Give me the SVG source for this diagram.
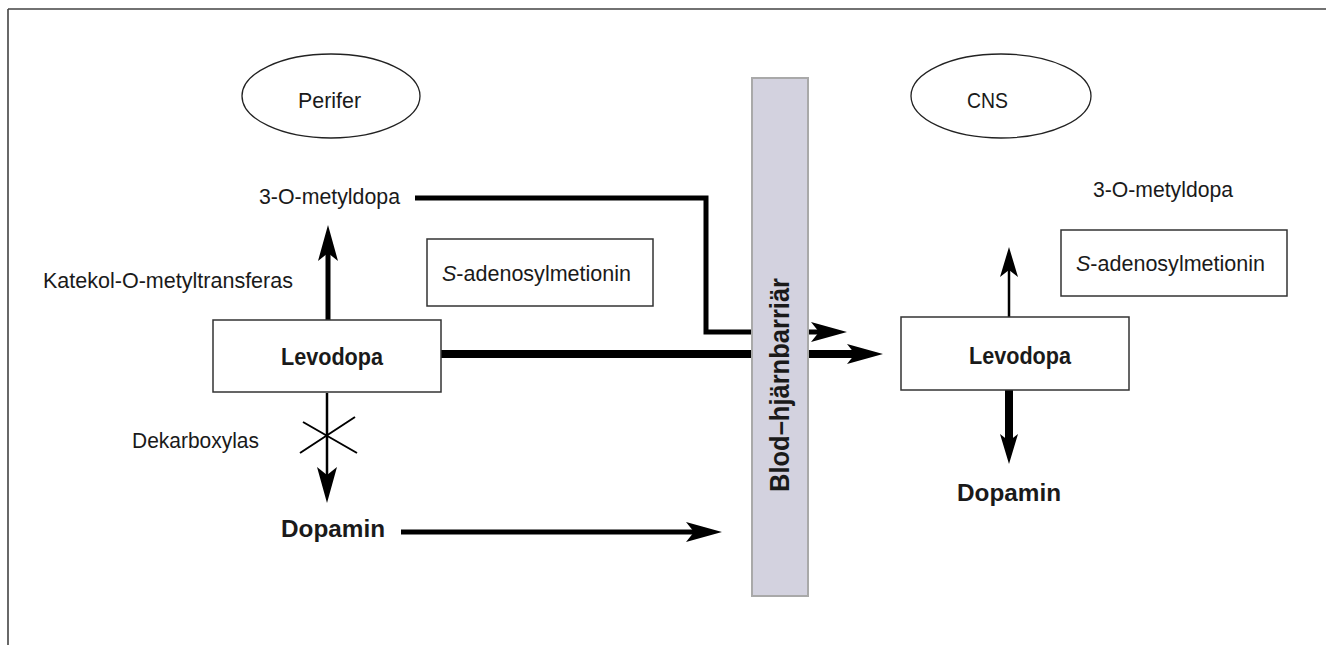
<svg xmlns="http://www.w3.org/2000/svg" width="1326" height="645" viewBox="0 0 1326 645">
<style>
text{font-family:"Liberation Sans",Arial,sans-serif;fill:#1a1a1a}
.r{font-size:22px}
.b{font-size:23px;font-weight:bold}
.box{fill:#fff;stroke:#333;stroke-width:1.5}
.ell{fill:#fff;stroke:#222;stroke-width:1.3}
.ln{fill:none;stroke:#000;stroke-linejoin:miter}
</style>
<defs>
<marker id="ah" markerUnits="userSpaceOnUse" viewBox="0 0 36 20" refX="8" refY="10" markerWidth="36" markerHeight="20" orient="auto">
<path d="M36,10 L0,0 L8,10 L0,20 Z" fill="#000"/>
</marker>
<marker id="ahs" markerUnits="userSpaceOnUse" viewBox="0 0 30 18" refX="7" refY="9" markerWidth="30" markerHeight="18" orient="auto">
<path d="M30,9 L0,0 L7,9 L0,18 Z" fill="#000"/>
</marker>
</defs>
<path d="M8,9 H1326 M8,9 V645" fill="none" stroke="#444" stroke-width="1.6"/>
<g id="connectors">
<path class="ln" d="M415,198 H706 V332 H819" stroke-width="5" marker-end="url(#ah)"/>
<path class="ln" d="M441,354 H855" stroke-width="8" marker-end="url(#ah)"/>
<path class="ln" d="M401,532 H694" stroke-width="5" marker-end="url(#ah)"/>
<path class="ln" d="M328,320 V253" stroke-width="5" marker-end="url(#ah)"/>
<path class="ln" d="M327,393 V475" stroke-width="2.5" marker-end="url(#ah)"/>
<path class="ln" d="M303,422 L357,453 M355,417 L300,453" stroke-width="2"/>
<path class="ln" d="M1009,317 V270" stroke-width="2.5" marker-end="url(#ahs)"/>
<path class="ln" d="M1009,390 V441" stroke-width="8" marker-end="url(#ahs)"/>
</g>
<g id="barrier">
<rect x="752" y="78" width="56" height="518" fill="#d3d2df" stroke="#a9a9a9" stroke-width="2"/>
<text class="b" transform="translate(789,385) rotate(-90)" text-anchor="middle" style="font-size:28px" textLength="214" lengthAdjust="spacingAndGlyphs">Blod–hjärnbarriär</text>
</g>
<g id="perifer">
<ellipse class="ell" cx="331" cy="96" rx="89" ry="42"/>
<text class="r" x="298" y="108" textLength="63" lengthAdjust="spacingAndGlyphs">Perifer</text>
</g>
<g id="cns">
<ellipse class="ell" cx="1001" cy="96" rx="90" ry="42"/>
<text class="r" x="967" y="108" textLength="41" lengthAdjust="spacingAndGlyphs">CNS</text>
</g>
<g id="omd-left">
<text class="r" x="259" y="204" textLength="141" lengthAdjust="spacingAndGlyphs">3-O-metyldopa</text>
</g>
<g id="comt">
<text class="r" x="43" y="288" textLength="250" lengthAdjust="spacingAndGlyphs">Katekol-O-metyltransferas</text>
</g>
<g id="sam-left">
<rect class="box" x="427" y="239" width="226" height="67"/>
<text class="r" x="442" y="281" textLength="189" lengthAdjust="spacingAndGlyphs"><tspan font-style="italic">S</tspan>-adenosylmetionin</text>
</g>
<g id="levodopa-left">
<rect class="box" x="213" y="320" width="228" height="72"/>
<text class="b" x="281" y="365" textLength="102" lengthAdjust="spacingAndGlyphs">Levodopa</text>
</g>
<g id="ddc">
<text class="r" x="132" y="448" textLength="127" lengthAdjust="spacingAndGlyphs">Dekarboxylas</text>
</g>
<g id="dopamin-left">
<text class="b" x="281" y="537" textLength="104" lengthAdjust="spacingAndGlyphs">Dopamin</text>
</g>
<g id="omd-right">
<text class="r" x="1093" y="197" textLength="140" lengthAdjust="spacingAndGlyphs">3-O-metyldopa</text>
</g>
<g id="sam-right">
<rect class="box" x="1061" y="230" width="226" height="66"/>
<text class="r" x="1076" y="271" textLength="189" lengthAdjust="spacingAndGlyphs"><tspan font-style="italic">S</tspan>-adenosylmetionin</text>
</g>
<g id="levodopa-right">
<rect class="box" x="901" y="317" width="228" height="73"/>
<text class="b" x="969" y="364" textLength="102" lengthAdjust="spacingAndGlyphs">Levodopa</text>
</g>
<g id="dopamin-right">
<text class="b" x="957" y="501" textLength="104" lengthAdjust="spacingAndGlyphs">Dopamin</text>
</g>
</svg>
